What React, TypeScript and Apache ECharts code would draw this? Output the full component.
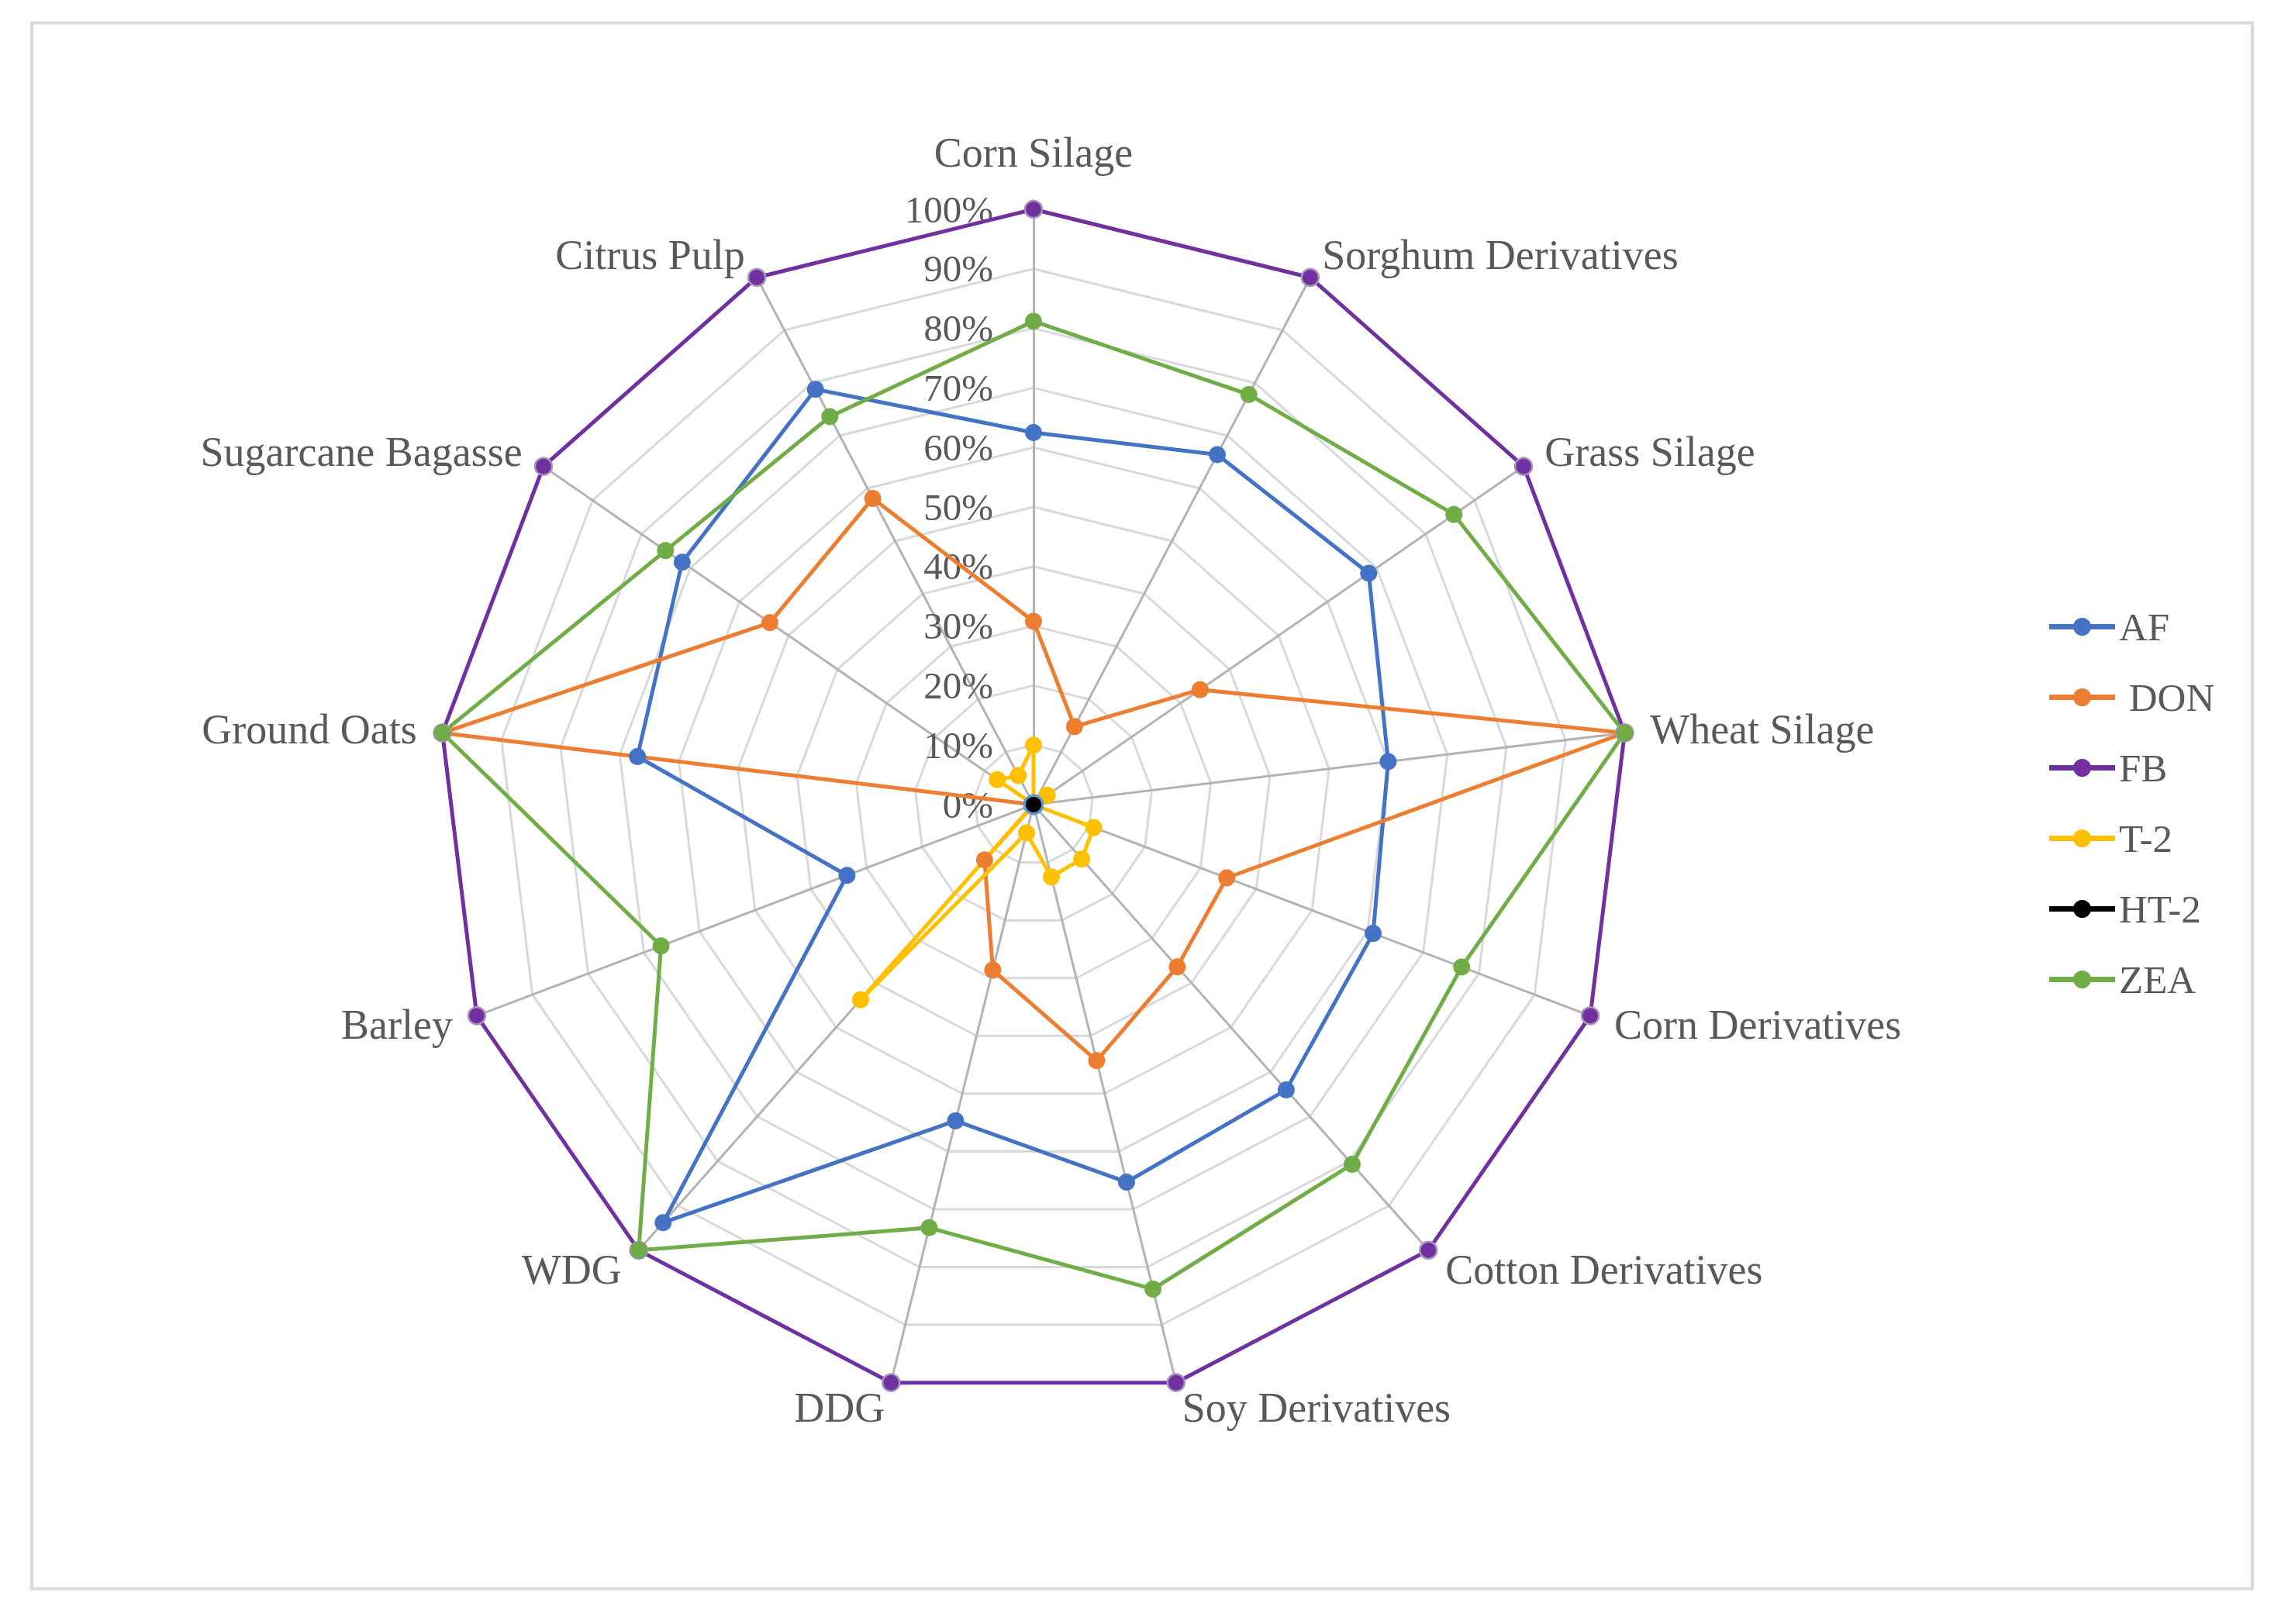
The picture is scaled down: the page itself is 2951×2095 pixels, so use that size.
import React, { useEffect, useRef } from 'react';
import * as echarts from 'echarts';

// Categories, clockwise from the top
const categories = [
  'Corn Silage',
  'Sorghum Derivatives',
  'Grass Silage',
  'Wheat Silage',
  'Corn Derivatives',
  'Cotton Derivatives',
  'Soy Derivatives',
  'DDG',
  'WDG',
  'Barley',
  'Ground Oats',
  'Sugarcane Bagasse',
  'Citrus Pulp',
];

// Values in percent, same order as categories
const AF = [62.5, 66.4, 68.4, 60, 61, 64, 65.3, 54.7, 93.8, 33.5, 67, 71.7, 78.8];
const DON = [30.8, 14.8, 34, 100, 34.7, 36.4, 44.3, 28.6, 12.4, 0, 100, 53.8, 58.1];
const FB = [100, 100, 100, 100, 100, 100, 100, 100, 100, 100, 100, 100, 100];
const T2 = [10, 0, 2.8, 0, 10.8, 12.2, 12.5, 4.9, 43.8, 0, 0, 7.4, 5.5];
const HT2 = [0, 0, 0, 0, 0, 0, 0, 0, 0, 0, 0, 0, 0];
const ZEA = [81.2, 77.8, 85.8, 100, 76.9, 80.7, 83.8, 73.2, 100, 66.9, 100, 75.1, 73.6];

const seriesNames = ['AF', ' DON', 'FB', 'T-2', 'HT-2', 'ZEA'];
const seriesColors = ['#4472C4', '#ED7D31', '#7030A0', '#FFC000', '#000000', '#70AD47'];
const axisMax = 100;
const axisSplits = 10;

const FONT = '"Liberation Serif", "Times New Roman", serif';
const TEXT_COLOR = '#595959';
const NAME_SIZE = 54;

export default function App() {
  const ref = useRef<HTMLDivElement>(null);

  useEffect(() => {
    document.body.style.margin = '0';
    if (!ref.current) return;
    const chart = echarts.init(ref.current, null, { renderer: 'svg' });

    // ECharts lays radar indicators counter-clockwise; reorder to get clockwise
    const order = [0, ...categories.map((_, i) => i).slice(1).reverse()];
    const reorder = (arr: number[]) => order.map((i) => arr[i]);

    const seriesData = [AF, DON, FB, T2, HT2, ZEA];
    const borders: Record<string, { c: string; w: number }> = {
      FB: { c: '#a894bb', w: 2.5 },
      'HT-2': { c: '#5B9BD5', w: 3 },
    };

    const indicator = order.map((i, k) => {
      const ind: any = { name: categories[i], min: 0, max: axisMax };
      if (k === 0) {
        ind.axisLabel = {
          show: true,
          formatter: '{value}%',
          color: TEXT_COLOR,
          fontSize: 49,
          fontFamily: FONT,
          margin: 52,
        };
      }
      return ind;
    });

    const option: any = {
      animation: false,
      backgroundColor: '#ffffff',
      graphic: [
        {
          type: 'rect',
          shape: { x: 41, y: 29.5, width: 2864, height: 2020 },
          style: { fill: 'none', stroke: '#d9d9d9', lineWidth: 4 },
          silent: true,
          z: -1,
        },
      ],
      legend: {
        orient: 'vertical',
        left: 2638,
        top: 778,
        itemWidth: 85,
        itemHeight: 23,
        itemGap: 40,
        icon: 'path://M0,8L85,8L85,15L0,15Z M54,11.5A11.5,11.5,0,1,1,31,11.5A11.5,11.5,0,1,1,54,11.5Z',
        itemStyle: { borderWidth: 0 },
        textStyle: {
          fontSize: 51,
          color: TEXT_COLOR,
          fontFamily: FONT,
          lineHeight: 50,
        },
        data: seriesNames,
      },
      radar: {
        center: [1333, 1038],
        radius: 768,
        startAngle: 90,
        shape: 'polygon',
        splitNumber: axisSplits,
        nameGap: 33,
        axisName: {
          color: TEXT_COLOR,
          fontSize: NAME_SIZE,
          fontFamily: FONT,
          formatter: (name: string) => (name === categories[0] ? '{top|' + name + '}' : name),
          rich: {
            top: {
              color: TEXT_COLOR,
              fontSize: NAME_SIZE,
              fontFamily: FONT,
              padding: [0, 0, 13, 0],
            },
          },
        },
        axisLine: { lineStyle: { color: '#b3b3b3', width: 3 } },
        splitLine: { lineStyle: { color: '#d9d9d9', width: 3 } },
        splitArea: { show: false },
        axisTick: { show: false },
        axisLabel: { show: false },
        indicator,
      },
      series: seriesNames.map((name, si) => {
        const key = name.trim();
        const b = borders[key];
        return {
          type: 'radar',
          name,
          symbol: 'circle',
          symbolSize: key === 'HT-2' ? 23 : 22,
          lineStyle: { color: seriesColors[si], width: 5 },
          itemStyle: {
            color: seriesColors[si],
            borderColor: b ? b.c : seriesColors[si],
            borderWidth: b ? b.w : 0,
          },
          data: [{ name, value: reorder(seriesData[si]) }],
        };
      }),
    };

    chart.setOption(option);
    return () => chart.dispose();
  }, []);

  return <div ref={ref} style={{ width: 2951, height: 2095 }} />;
}
